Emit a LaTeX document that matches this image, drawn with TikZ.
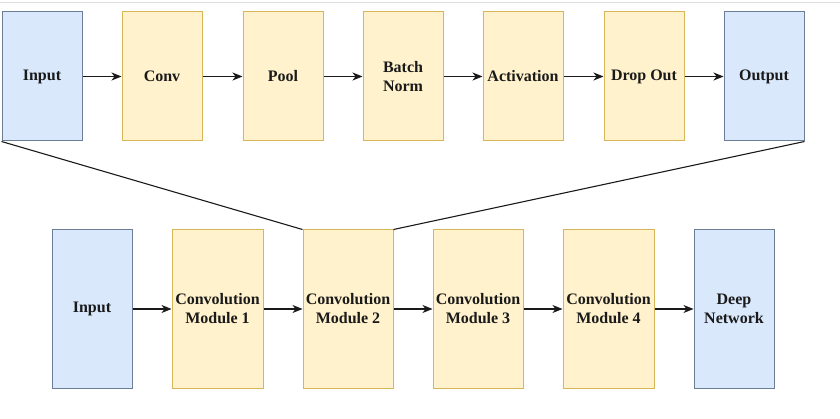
\documentclass[tikz,border=0pt]{standalone}
\usepackage{fontspec}
\setmainfont{Liberation Serif}
\usetikzlibrary{arrows.meta}
\definecolor{bfill}{HTML}{DAE8FC}
\definecolor{bdraw}{HTML}{6C7D96}
\definecolor{yfill}{HTML}{FFF2CC}
\definecolor{ydraw}{HTML}{D6B656}
\definecolor{txt}{HTML}{1A1A1A}
\definecolor{topline}{HTML}{DDDDDD}
\tikzset{
  box/.style={rectangle, draw, line width=1pt, inner sep=0pt, align=center,
    text=txt, font=\rmfamily\fontsize{16}{19}\selectfont\bfseries},
  bluebox/.style={box, fill=bfill, draw=bdraw},
  yelbox/.style={box, fill=yfill, draw=ydraw},
  toprow/.style={minimum width=80pt, minimum height=129pt},
  botrow/.style={minimum height=158pt},
  arr/.style={-{Stealth[length=10pt,width=8pt,inset=3pt]}, line width=1.1pt, draw=txt},
  link/.style={line width=1.1pt, draw=txt}
}
\begin{document}
\begin{tikzpicture}[x=1pt,y=-1pt]
\useasboundingbox (0,0) rectangle (840,419);
\fill[white] (0,0) rectangle (840,419);
\draw[topline, line width=1pt] (0,3) -- (840,3);
% top row
\node[bluebox, toprow] (tin) at (42,76.5) {Input};
\node[yelbox, toprow] (tconv) at (162,76.5) {Conv};
\node[yelbox, toprow] (tpool) at (283,76.5) {Pool};
\node[yelbox, toprow] (tbn) at (403,76.5) {Batch\\Norm};
\node[yelbox, toprow] (tact) at (523,76.5) {Activation};
\node[yelbox, toprow] (tdo) at (644,76.5) {Drop Out};
\node[bluebox, toprow] (tout) at (764,76.5) {Output};
% bottom row
\node[bluebox, botrow, minimum width=80pt] (bin) at (92,309) {Input};
\node[yelbox, botrow, minimum width=91pt] (m1) at (217.5,309) {Convolution\\Module 1};
\node[yelbox, botrow, minimum width=90pt] (m2) at (348,309) {Convolution\\Module 2};
\node[yelbox, botrow, minimum width=90pt] (m3) at (478,309) {Convolution\\Module 3};
\node[yelbox, botrow, minimum width=91pt] (m4) at (608.5,309) {Convolution\\Module 4};
\node[bluebox, botrow, minimum width=80pt] (dn) at (734,309) {Deep\\Network};
% arrows
\draw[arr] (tin) -- (tconv);
\draw[arr] (tconv) -- (tpool);
\draw[arr] (tpool) -- (tbn);
\draw[arr] (tbn) -- (tact);
\draw[arr] (tact) -- (tdo);
\draw[arr] (tdo) -- (tout);
\draw[arr] (bin) -- (m1);
\draw[arr] (m1) -- (m2);
\draw[arr] (m2) -- (m3);
\draw[arr] (m3) -- (m4);
\draw[arr] (m4) -- (dn);
% expansion lines
\draw[link] (tin.south west) -- (m2.north west);
\draw[link] (tout.south east) -- (m2.north east);
\end{tikzpicture}
\end{document}
